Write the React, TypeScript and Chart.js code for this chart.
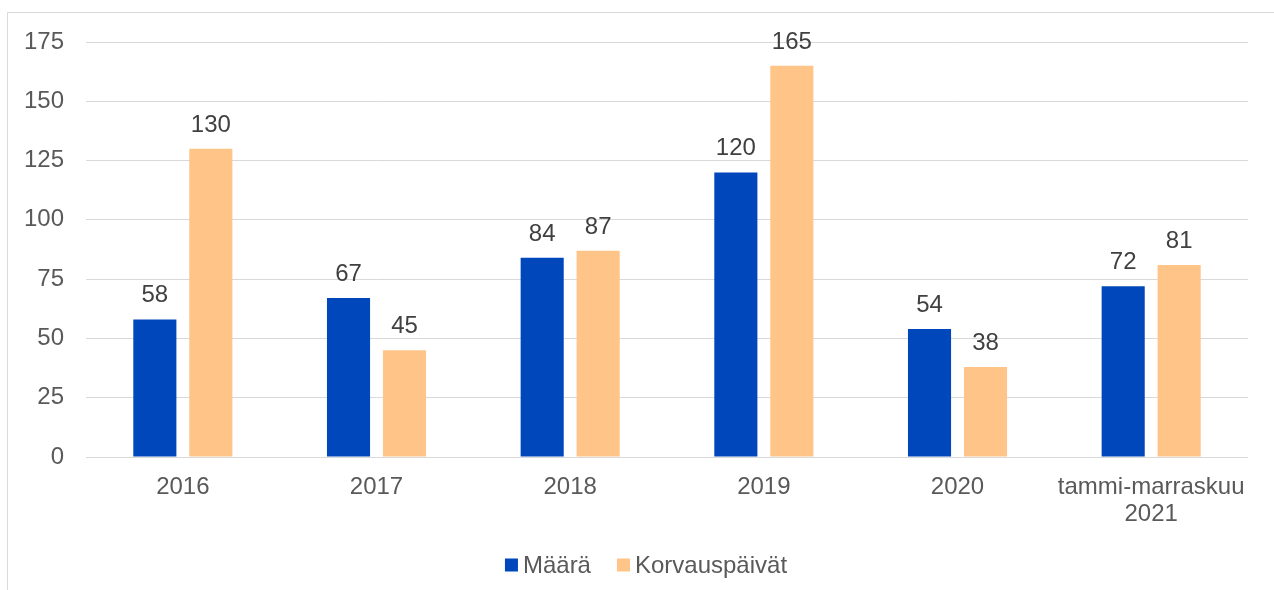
import React, { useEffect, useRef } from "react";
import { Chart, registerables } from "chart.js";

Chart.register(...registerables);

const categories: (string | string[])[] = ["2016", "2017", "2018", "2019", "2020", ["tammi-marraskuu", "2021"]];
const maaraValues = [58, 67, 84, 120, 54, 72];
const korvausValues = [130, 45, 87, 165, 38, 81];
const yTicks = [0, 25, 50, 75, 100, 125, 150, 175];
const seriesNames = ["Määrä", "Korvauspäivät"];
const seriesColors = ["#0047BB", "#FFC488"];

const FONT = "'Liberation Sans', Arial, sans-serif";

export default function App() {
  const ref = useRef<HTMLCanvasElement>(null);

  useEffect(() => {
    if (!ref.current) return;

    const framePlugin = {
      id: "frame",
      beforeDraw(chart: any) {
        const ctx = chart.ctx;
        ctx.save();
        ctx.strokeStyle = "#d9d9d9";
        ctx.lineWidth = 1;
        ctx.beginPath();
        ctx.moveTo(7.5, 590);
        ctx.lineTo(7.5, 12.5);
        ctx.lineTo(1274, 12.5);
        ctx.stroke();
        ctx.restore();
      },
    };

    const labelPlugin = {
      id: "valueLabels",
      afterDatasetsDraw(chart: any) {
        const ctx = chart.ctx;
        ctx.save();
        ctx.font = `24px ${FONT}`;
        ctx.fillStyle = "#404040";
        ctx.textAlign = "center";
        ctx.textBaseline = "alphabetic";
        chart.data.datasets.forEach((ds: any, di: number) => {
          const meta = chart.getDatasetMeta(di);
          meta.data.forEach((el: any, i: number) => {
            ctx.fillText(String(ds.data[i]), el.x, el.y - 17);
          });
        });
        ctx.restore();
      },
    };

    const legendPlugin = {
      id: "customLegend",
      afterDraw(chart: any) {
        const ctx = chart.ctx;
        ctx.save();
        ctx.font = `24px ${FONT}`;
        ctx.textBaseline = "alphabetic";
        ctx.textAlign = "left";
        const box = 13;
        const gapText = 5;
        const gapItem = 26;
        const widths = seriesNames.map((n) => box + gapText + ctx.measureText(n).width);
        const total = widths.reduce((a, b) => a + b, 0) + gapItem * (widths.length - 1);
        let x = 646 - total / 2;
        const y = 565;
        seriesNames.forEach((n, i) => {
          ctx.fillStyle = seriesColors[i];
          ctx.fillRect(x, y - box / 2, box, box);
          ctx.fillStyle = "#595959";
          ctx.fillText(n, x + box + gapText, y + 7.5);
          x += widths[i] + gapItem;
        });
        ctx.restore();
      },
    };

    const chart = new Chart(ref.current, {
      type: "bar",
      data: {
        labels: categories,
        datasets: [
          {
            label: seriesNames[0],
            data: maaraValues,
            backgroundColor: seriesColors[0],
            categoryPercentage: 0.578,
            barPercentage: 0.77,
          },
          {
            label: seriesNames[1],
            data: korvausValues,
            backgroundColor: seriesColors[1],
            categoryPercentage: 0.578,
            barPercentage: 0.77,
          },
        ],
      },
      options: {
        responsive: false,
        animation: false,
        events: [],
        layout: { padding: { top: 42, right: 26, left: 0, bottom: 0 } },
        plugins: {
          legend: { display: false },
          tooltip: { enabled: false },
        },
        scales: {
          x: {
            grid: { display: false, drawTicks: false },
            border: { display: false },
            ticks: {
              color: "#595959",
              font: { family: FONT, size: 24, lineHeight: 27 / 24 },
              padding: 17,
              maxRotation: 0,
              autoSkip: false,
            },
            afterFit(scale: any) {
              scale.height = 133;
            },
          },
          y: {
            min: 0,
            max: 175,
            afterBuildTicks(scale: any) {
              scale.ticks = yTicks.map((v) => ({ value: v }));
            },
            grid: { color: "#d9d9d9", lineWidth: 1, drawTicks: false },
            border: { display: false },
            ticks: {
              color: "#595959",
              font: { family: FONT, size: 24 },
              padding: 22,
            },
            afterFit(scale: any) {
              scale.width = 86;
            },
          },
        },
      },
      plugins: [framePlugin, labelPlugin, legendPlugin],
    });

    return () => chart.destroy();
  }, []);

  return (
    <div style={{ position: "absolute", left: 0, top: 0, width: 1274, height: 590, background: "#fff" }}>
      <canvas ref={ref} width={1274} height={590} style={{ width: 1274, height: 590, display: "block" }} />
    </div>
  );
}
